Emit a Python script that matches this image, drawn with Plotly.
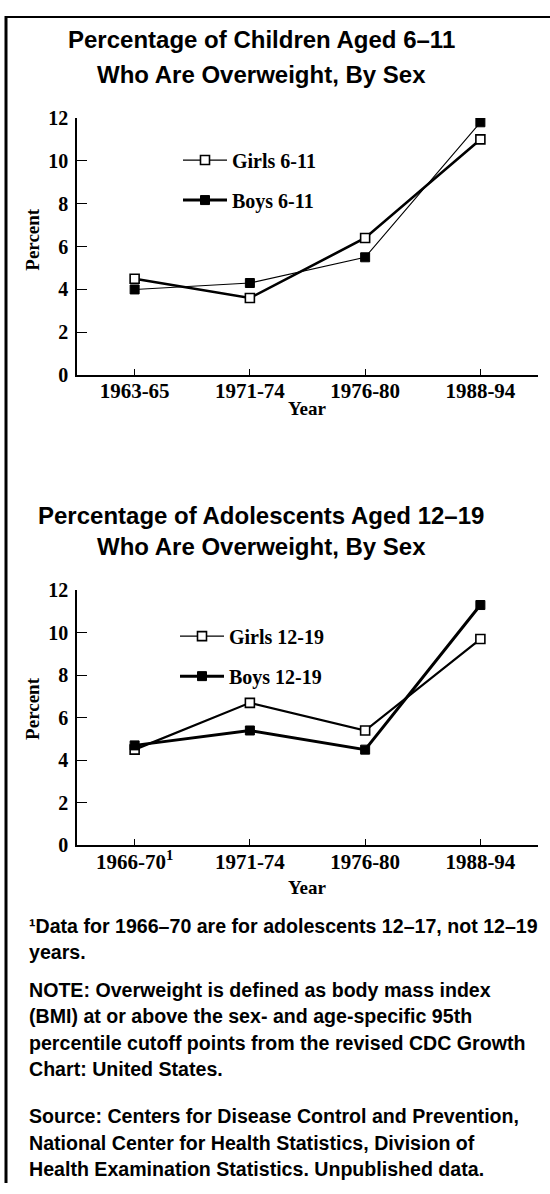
import plotly.graph_objects as go

W, H = 550, 1194

# ---------------- data ----------------
years_children = ["1963-65", "1971-74", "1976-80", "1988-94"]
girls_6_11 = [4.5, 3.6, 6.4, 11.0]
boys_6_11 = [4.0, 4.3, 5.5, 11.8]

years_adol = ["1966-70", "1971-74", "1976-80", "1988-94"]
years_adol_labels = ["1966-70<sup>1</sup>", "1971-74", "1976-80", "1988-94"]
girls_12_19 = [4.5, 6.7, 5.4, 9.7]
boys_12_19 = [4.7, 5.4, 4.5, 11.3]

y_ticks = [0, 2, 4, 6, 8, 10, 12]

title1 = ["Percentage of Children Aged 6\u201311", "Who Are Overweight, By Sex"]
title2 = ["Percentage of Adolescents Aged 12\u201319", "Who Are Overweight, By Sex"]

footnote_blocks = [
    ["\u00b9Data for 1966\u201370 are for adolescents 12\u201317, not 12\u201319",
     "years."],
    ["NOTE: Overweight is defined as body mass index",
     "(BMI) at or above the sex- and age-specific 95th",
     "percentile cutoff points from the revised CDC Growth",
     "Chart: United States."],
    ["Source: Centers for Disease Control and Prevention,",
     "National Center for Health Statistics, Division of",
     "Health Examination Statistics. Unpublished data."],
]

# ---------------- styles ----------------
SERIF = "Liberation Serif"
SANS = "Liberation Sans"
BLACK = "#000000"


def px_x(x):
    return x / W


def px_y(y):
    return 1 - y / H


open_marker = dict(symbol="square", size=9, color="white", line=dict(color=BLACK, width=1.6))
filled_marker = dict(symbol="square", size=9, color=BLACK, line=dict(color=BLACK, width=1))

fig = go.Figure()

# chart 1 data
fig.add_trace(go.Scatter(x=years_children, y=girls_6_11, mode="lines+markers",
                         line=dict(color=BLACK, width=2.6), marker=open_marker,
                         xaxis="x", yaxis="y", showlegend=False))
fig.add_trace(go.Scatter(x=years_children, y=boys_6_11, mode="lines+markers",
                         line=dict(color=BLACK, width=1.1), marker=filled_marker,
                         xaxis="x", yaxis="y", showlegend=False))
# chart 1 legend samples
fig.add_trace(go.Scatter(x=[None], y=[None], mode="lines+markers", name="Girls 6-11",
                         line=dict(color=BLACK, width=1.2), marker=open_marker,
                         xaxis="x", yaxis="y", legend="legend", legendgroup="g1"))
fig.add_trace(go.Scatter(x=[None], y=[None], mode="lines+markers", name="Boys 6-11",
                         line=dict(color=BLACK, width=3), marker=filled_marker,
                         xaxis="x", yaxis="y", legend="legend", legendgroup="b1"))

# chart 2 data
fig.add_trace(go.Scatter(x=years_adol, y=girls_12_19, mode="lines+markers",
                         line=dict(color=BLACK, width=2.2), marker=open_marker,
                         xaxis="x2", yaxis="y2", showlegend=False))
fig.add_trace(go.Scatter(x=years_adol, y=boys_12_19, mode="lines+markers",
                         line=dict(color=BLACK, width=3), marker=filled_marker,
                         xaxis="x2", yaxis="y2", showlegend=False))
fig.add_trace(go.Scatter(x=[None], y=[None], mode="lines+markers", name="Girls 12-19",
                         line=dict(color=BLACK, width=1.2), marker=open_marker,
                         xaxis="x2", yaxis="y2", legend="legend2", legendgroup="g2"))
fig.add_trace(go.Scatter(x=[None], y=[None], mode="lines+markers", name="Boys 12-19",
                         line=dict(color=BLACK, width=3), marker=filled_marker,
                         xaxis="x2", yaxis="y2", legend="legend2", legendgroup="b2"))

xtickfont = dict(family=SERIF, size=21, color=BLACK, weight="bold")
ytickfont = dict(family=SERIF, size=20, color=BLACK, weight="bold")

xcommon = dict(type="category", range=[-0.5, 3.5], showline=True, linecolor=BLACK,
               linewidth=2, ticks="inside", ticklen=6, tickwidth=1.3, tickcolor=BLACK,
               tickfont=xtickfont, showgrid=False, zeroline=False, fixedrange=True,
               domain=[px_x(77), px_x(538)], ticklabelstandoff=-4)
ycommon = dict(range=[0, 12], tickvals=y_ticks, showline=True, linecolor=BLACK,
               linewidth=1.5, ticks="inside", ticklen=10, tickwidth=1.3, tickcolor=BLACK,
               tickfont=ytickfont, showgrid=False, zeroline=False, fixedrange=True,
               ticklabelstandoff=3)

legend_font = dict(family=SERIF, size=20, color=BLACK, weight="bold")

fig.update_layout(
    width=W, height=H,
    margin=dict(l=0, r=0, t=0, b=0),
    paper_bgcolor="white", plot_bgcolor="white",
    xaxis=dict(**xcommon, anchor="y", categoryarray=years_children),
    yaxis=dict(**ycommon, anchor="x", domain=[px_y(371), px_y(109)]),
    xaxis2=dict(**xcommon, anchor="y2", categoryarray=years_adol,
                tickvals=years_adol, ticktext=years_adol_labels),
    yaxis2=dict(**ycommon, anchor="x2", domain=[px_y(850), px_y(590)]),
    legend=dict(x=px_x(178), y=px_y(132), xanchor="left", yanchor="top",
                bgcolor="rgba(0,0,0,0)", font=legend_font, traceorder="grouped",
                tracegroupgap=11, itemwidth=44),
    legend2=dict(x=px_x(175), y=px_y(617), xanchor="left", yanchor="top",
                 bgcolor="rgba(0,0,0,0)", font=legend_font, traceorder="grouped",
                 tracegroupgap=11, itemwidth=44),
    showlegend=True,
)

annotations = []
title_font = dict(family=SANS, size=24, color=BLACK, weight="bold")
for text, yc in zip(title1, [29, 65]):
    annotations.append(dict(text=text, x=px_x(261), y=px_y(yc), xref="paper", yref="paper",
                            xanchor="center", yanchor="middle", showarrow=False, font=title_font))
for text, yc in zip(title2, [514, 546]):
    annotations.append(dict(text=text, x=px_x(261), y=px_y(yc), xref="paper", yref="paper",
                            xanchor="center", yanchor="middle", showarrow=False, font=title_font))

axis_title_font = dict(family=SERIF, size=19, color=BLACK, weight="bold")
for yc in [233, 711]:
    annotations.append(dict(text="Percent", x=px_x(33), y=px_y(yc), xref="paper", yref="paper",
                            xanchor="center", yanchor="middle", textangle=-90,
                            showarrow=False, font=axis_title_font))
for yc in [405, 893]:
    annotations.append(dict(text="Year", x=px_x(307), y=px_y(yc), xref="paper", yref="paper",
                            xanchor="center", yanchor="middle",
                            showarrow=False, font=axis_title_font))

foot_font = dict(family=SANS, size=19.6, color=BLACK, weight="bold")
block_starts = [932, 997, 1126]
line_step = 27
for start, block in zip(block_starts, footnote_blocks):
    for j, line in enumerate(block):
        annotations.append(dict(text=line, x=px_x(27), y=px_y(start + j * line_step),
                                xref="paper", yref="paper", xanchor="left", yanchor="middle",
                                showarrow=False, font=foot_font))

fig.update_layout(annotations=annotations)

# frame (left and top borders)
fig.add_shape(type="line", xref="paper", yref="paper", x0=px_x(6), x1=px_x(6),
              y0=px_y(5), y1=0, line=dict(color=BLACK, width=3))
fig.add_shape(type="line", xref="paper", yref="paper", x0=px_x(5), x1=1,
              y0=px_y(6), y1=px_y(6), line=dict(color=BLACK, width=2))

fig.write_html("out.html", config={"displayModeBar": False},
               post_script="document.body.style.margin='0';")
